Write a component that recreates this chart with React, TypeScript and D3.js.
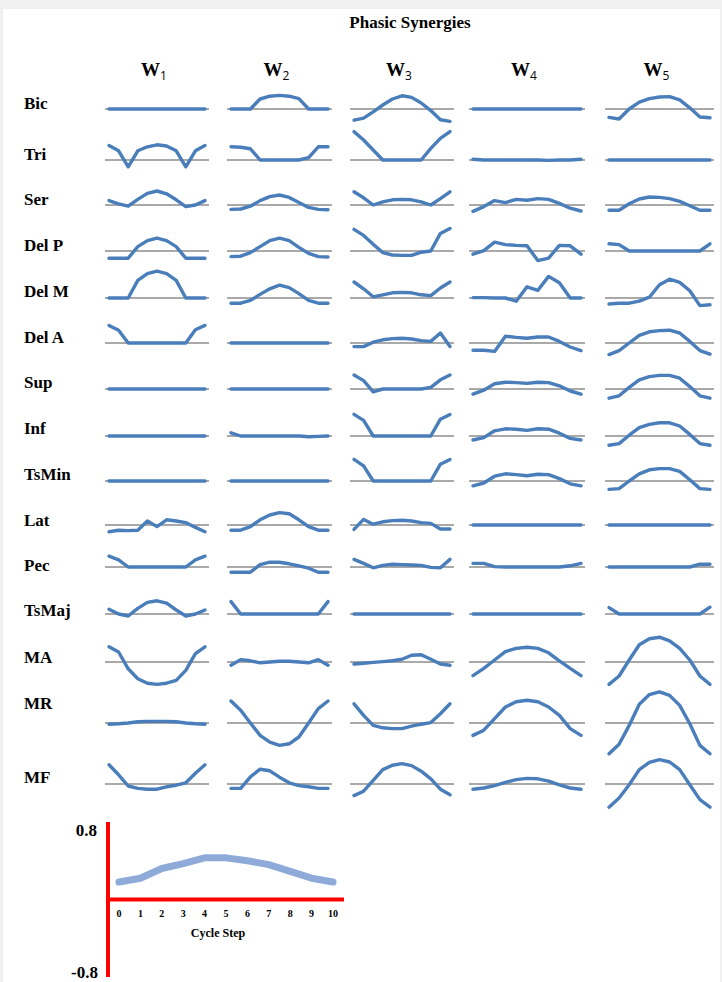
import React from "react";
import * as d3 from "d3";

const muscles = ["Bic", "Tri", "Ser", "Del P", "Del M", "Del A", "Sup", "Inf", "TsMin", "Lat", "Pec", "TsMaj", "MA", "MR", "MF"];
const synergies = ["1", "2", "3", "4", "5"];
const steps = [0, 1, 2, 3, 4, 5, 6, 7, 8, 9, 10];

// weights per synergy, one row per muscle, one value per cycle step
const w1 = [
  [0, 0, 0, 0, 0, 0, 0, 0, 0, 0, 0],
  [0.36, 0.23, -0.17, 0.23, 0.33, 0.38, 0.35, 0.23, -0.17, 0.23, 0.36],
  [0.11, 0.03, -0.03, 0.14, 0.29, 0.35, 0.28, 0.13, -0.04, 0, 0.11],
  [-0.18, -0.18, -0.18, 0.11, 0.26, 0.32, 0.26, 0.11, -0.18, -0.18, -0.18],
  [0, 0, 0, 0.44, 0.61, 0.67, 0.61, 0.44, 0, 0, 0],
  [0.44, 0.32, 0, 0, 0, 0, 0, 0, 0, 0.33, 0.44],
  [0, 0, 0, 0, 0, 0, 0, 0, 0, 0, 0],
  [0, 0, 0, 0, 0, 0, 0, 0, 0, 0, 0],
  [0, 0, 0, 0, 0, 0, 0, 0, 0, 0, 0],
  [-0.17, -0.13, -0.14, -0.13, 0.1, -0.04, 0.13, 0.1, 0.06, -0.06, -0.17],
  [0.27, 0.18, 0, 0, 0, 0, 0, 0, 0, 0.18, 0.27],
  [0.12, 0, -0.05, 0.14, 0.29, 0.33, 0.27, 0.1, -0.05, 0, 0.1],
  [0.38, 0.25, -0.17, -0.42, -0.53, -0.56, -0.53, -0.46, -0.21, 0.21, 0.38],
  [-0.03, -0.02, 0, 0.03, 0.04, 0.04, 0.04, 0.03, 0, -0.02, -0.03],
  [0.48, 0.23, -0.05, -0.11, -0.13, -0.13, -0.07, -0.03, 0.03, 0.27, 0.48],
];

const w2 = [
  [0, 0, 0, 0.25, 0.32, 0.34, 0.32, 0.26, 0, 0, 0],
  [0.33, 0.32, 0.28, 0, 0, 0, 0, 0, 0.06, 0.33, 0.33],
  [-0.11, -0.1, -0.03, 0.11, 0.21, 0.25, 0.19, 0.06, -0.06, -0.11, -0.12],
  [-0.14, -0.13, -0.04, 0.11, 0.26, 0.32, 0.26, 0.09, -0.06, -0.14, -0.15],
  [-0.13, -0.13, -0.06, 0.09, 0.23, 0.32, 0.26, 0.11, -0.06, -0.13, -0.13],
  [0, 0, 0, 0, 0, 0, 0, 0, 0, 0, 0],
  [0, 0, 0, 0, 0, 0, 0, 0, 0, 0, 0],
  [0.08, 0, 0, 0, 0, 0, 0, 0, -0.02, -0.01, 0],
  [0, 0, 0, 0, 0, 0, 0, 0, 0, 0, 0],
  [-0.13, -0.13, -0.04, 0.13, 0.25, 0.31, 0.28, 0.13, -0.04, -0.13, -0.13],
  [-0.13, -0.13, -0.13, 0.06, 0.12, 0.12, 0.08, 0.03, -0.03, -0.13, -0.13],
  [0.31, 0, 0, 0, 0, 0, 0, 0, 0, 0, 0.31],
  [-0.08, 0.06, 0.03, -0.02, 0, 0.02, 0.02, 0, -0.02, 0.06, -0.08],
  [0.55, 0.32, 0, -0.31, -0.48, -0.56, -0.52, -0.35, 0, 0.36, 0.55],
  [-0.11, -0.11, 0.18, 0.37, 0.33, 0.17, 0.03, -0.04, -0.07, -0.11, -0.11],
];

const w3 = [
  [-0.28, -0.23, -0.07, 0.1, 0.25, 0.33, 0.29, 0.15, -0.04, -0.27, -0.31],
  [0.71, 0.5, 0.25, 0, 0, 0, 0, 0, 0.29, 0.54, 0.71],
  [0.33, 0.18, 0, 0.08, 0.13, 0.14, 0.13, 0.08, 0, 0.16, 0.33],
  [0.54, 0.39, 0.17, -0.04, -0.1, -0.11, -0.11, -0.03, 0, 0.44, 0.56],
  [0.4, 0.23, 0.03, 0.08, 0.13, 0.14, 0.13, 0.08, 0.06, 0.25, 0.4],
  [-0.09, -0.09, 0.02, 0.08, 0.11, 0.12, 0.1, 0.06, 0.04, 0.25, -0.09],
  [0.35, 0.21, -0.07, 0, 0, 0, 0, 0, 0.04, 0.23, 0.35],
  [0.54, 0.39, 0, 0, 0, 0, 0, 0, 0, 0.42, 0.54],
  [0.54, 0.38, 0, 0, 0, 0, 0, 0, 0, 0.42, 0.54],
  [-0.11, 0.14, 0.02, 0.08, 0.11, 0.12, 0.1, 0.06, 0.04, -0.1, -0.1],
  [0.19, 0.09, -0.02, 0.04, 0.07, 0.06, 0.05, 0.04, -0.01, -0.02, 0.19],
  [0, 0, 0, 0, 0, 0, 0, 0, 0, 0, 0],
  [-0.05, -0.03, -0.01, 0.01, 0.03, 0.07, 0.17, 0.18, 0.07, -0.05, -0.08],
  [0.48, 0.19, -0.06, -0.12, -0.14, -0.14, -0.08, -0.03, 0.01, 0.23, 0.48],
  [-0.29, -0.18, 0.09, 0.36, 0.47, 0.51, 0.46, 0.32, 0.13, -0.13, -0.27],
];

const w4 = [
  [0, 0, 0, 0, 0, 0, 0, 0, 0, 0, 0],
  [0.02, 0, 0, 0, 0, 0, 0, -0.01, 0, 0, 0.02],
  [-0.16, -0.04, 0.11, 0.06, 0.14, 0.12, 0.16, 0.14, 0.04, -0.08, -0.15],
  [-0.08, 0.01, 0.22, 0.16, 0.14, 0.13, -0.24, -0.18, 0.14, 0.13, -0.08],
  [0.01, 0.01, 0, 0, -0.08, 0.28, 0.19, 0.54, 0.38, 0, 0],
  [-0.18, -0.18, -0.21, 0.17, 0.14, 0.12, 0.15, 0.15, 0.04, -0.1, -0.19],
  [-0.13, -0.03, 0.13, 0.17, 0.16, 0.14, 0.17, 0.16, 0.08, -0.05, -0.13],
  [-0.1, -0.04, 0.13, 0.18, 0.17, 0.14, 0.18, 0.17, 0.07, -0.06, -0.1],
  [-0.12, -0.05, 0.12, 0.18, 0.16, 0.13, 0.17, 0.16, 0.06, -0.07, -0.12],
  [0, 0, 0, 0, 0, 0, 0, 0, 0, 0, 0],
  [0.09, 0.09, 0.01, 0, 0, 0, 0, 0, 0, 0.03, 0.09],
  [0, 0, 0, 0, 0, 0, 0, 0, 0, 0, 0],
  [-0.34, -0.16, 0.05, 0.26, 0.34, 0.37, 0.34, 0.23, 0.03, -0.16, -0.34],
  [-0.31, -0.18, 0.11, 0.4, 0.53, 0.57, 0.53, 0.4, 0.19, -0.14, -0.31],
  [-0.13, -0.1, -0.04, 0.04, 0.11, 0.14, 0.13, 0.07, -0.02, -0.1, -0.13],
];

const w5 = [
  [-0.21, -0.25, 0, 0.17, 0.26, 0.3, 0.31, 0.23, 0.03, -0.2, -0.22],
  [0, 0, 0, 0, 0, 0, 0, 0, 0, 0, 0],
  [-0.13, -0.13, 0.03, 0.15, 0.2, 0.19, 0.16, 0.09, -0.02, -0.13, -0.13],
  [0.18, 0.16, 0, 0, 0, 0, 0, 0, 0, 0, 0.18],
  [-0.15, -0.13, -0.13, -0.08, 0.02, 0.33, 0.47, 0.39, 0.18, -0.19, -0.17],
  [-0.29, -0.19, 0, 0.19, 0.28, 0.31, 0.32, 0.25, 0.04, -0.19, -0.28],
  [-0.23, -0.17, 0.04, 0.23, 0.31, 0.34, 0.34, 0.27, 0.06, -0.17, -0.23],
  [-0.23, -0.19, 0.02, 0.21, 0.29, 0.33, 0.33, 0.25, 0.04, -0.19, -0.23],
  [-0.21, -0.19, 0, 0.18, 0.28, 0.31, 0.31, 0.24, 0.03, -0.19, -0.21],
  [0, 0, 0, 0, 0, 0, 0, 0, 0, 0, 0],
  [0, 0, 0, 0, 0, 0, 0, 0, 0, 0.07, 0.07],
  [0.16, 0, 0, 0, 0, 0, 0, 0, 0, 0, 0.17],
  [-0.56, -0.35, 0.05, 0.43, 0.58, 0.62, 0.53, 0.34, 0.05, -0.35, -0.56],
  [-0.77, -0.53, -0.06, 0.47, 0.71, 0.78, 0.69, 0.44, -0.02, -0.56, -0.77],
  [-0.58, -0.35, -0.02, 0.36, 0.54, 0.61, 0.55, 0.36, -0.02, -0.39, -0.58],
];

const sampleCurve = [0.18, 0.22, 0.32, 0.37, 0.43, 0.43, 0.4, 0.36, 0.29, 0.22, 0.18];
const legendTicks = ["0.8", "-0.8"];

const allWeights = [w1, w2, w3, w4, w5];

// layout
const W = 722, H = 982;
const colX = [[109, 205], [231, 328], [354, 450], [473, 581], [609, 710]];
const rowBase = [109, 160, 205, 251, 298, 343, 389, 436, 481, 525, 567, 614, 662, 723, 784];
const labelY = [109, 160, 205, 251, 297, 343, 388, 434, 480, 526, 571, 616, 663, 709, 783];
const serif = "'Liberation Serif', 'Times New Roman', serif";
const blue = "#4a7ebb";

function Cell({ values, x0, x1, base }: { values: number[]; x0: number; x1: number; base: number }) {
  const x = d3.scaleLinear().domain([0, 10]).range([x0, x1]);
  const y = d3.scaleLinear().domain([-0.8, 0.8]).range([base + 32, base - 32]);
  const line = d3.line<number>().x((d, i) => x(steps[i])).y((d) => y(d));
  return (
    <g>
      <line x1={x0 - 4} x2={x1 + 4} y1={y(0)} y2={y(0)} stroke="#8c8c8c" strokeWidth={1.6} />
      <path d={line(values) || ""} fill="none" stroke={blue} strokeWidth={3.4} strokeLinejoin="round" strokeLinecap="round" />
    </g>
  );
}

function Legend() {
  const x = d3.scaleLinear().domain([0, 10]).range([119, 333]);
  const y = d3.scaleLinear().domain([-0.8, 0.8]).range([977, 822]);
  const line = d3.line<number>().x((d, i) => x(steps[i])).y((d) => y(d));
  return (
    <g fontFamily={serif} fontWeight="bold">
      <path d={line(sampleCurve) || ""} fill="none" stroke="#8eaad8" strokeWidth={7} strokeLinejoin="round" strokeLinecap="round" />
      <line x1={108} x2={108} y1={y(0.8)} y2={y(-0.8)} stroke="#ff0000" strokeWidth={4} />
      <line x1={106} x2={344} y1={y(0)} y2={y(0)} stroke="#ff0000" strokeWidth={4} />
      {steps.map((s) => (
        <text key={s} x={x(s)} y={917} fontSize={10} textAnchor="middle">{s}</text>
      ))}
      <text x={218} y={937} fontSize={12} textAnchor="middle">Cycle Step</text>
      <text x={97} y={836} fontSize={17} textAnchor="end">{legendTicks[0]}</text>
      <text x={98} y={978} fontSize={17} textAnchor="end">{legendTicks[1]}</text>
    </g>
  );
}

export default function App() {
  return (
    <svg width={W} height={H} style={{ position: "absolute", left: 0, top: 0 }}>
      <rect x={0} y={0} width={W} height={H} fill="#f0f0f0" />
      <rect x={3} y={9} width={W - 5} height={H - 9} fill="#ffffff" />
      <text x={410} y={28} fontFamily={serif} fontWeight="bold" fontSize={17} textAnchor="middle">Phasic Synergies</text>
      {synergies.map((s, j) => (
        <text key={s} x={(colX[j][0] + colX[j][1]) / 2 - 3} y={76} fontFamily={serif} fontWeight="bold" fontSize={19} textAnchor="middle">
          W<tspan fontFamily="'Open Sans', 'DejaVu Sans', sans-serif" fontWeight="normal" fontSize={12} dy={4}>{s}</tspan>
        </text>
      ))}
      {muscles.map((m, i) => (
        <text key={m} x={24} y={labelY[i]} fontFamily={serif} fontWeight="bold" fontSize={17}>{m}</text>
      ))}
      {allWeights.map((wt, j) =>
        wt.map((vals, i) => (
          <Cell key={j + "-" + i} values={vals} x0={colX[j][0]} x1={colX[j][1]} base={rowBase[i]} />
        ))
      )}
      <Legend />
    </svg>
  );
}
